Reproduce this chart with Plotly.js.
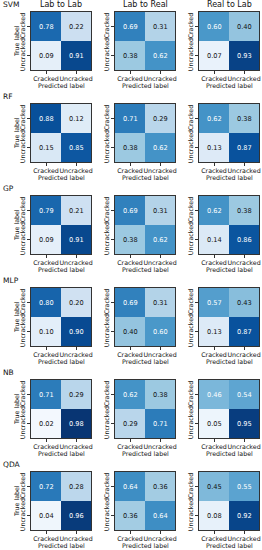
<!DOCTYPE html>
<html>
<head>
<meta charset="utf-8">
<script src="https://cdn.plot.ly/plotly-3.0.1.min.js"></script>
<style>html,body{margin:0;padding:0;background:#fff;}#chart{width:262px;height:550px;}</style>
</head>
<body>
<div id="chart"></div>
<script>
// ---- data ----
const models = ['SVM', 'RF', 'GP', 'MLP', 'NB', 'QDA'];
const scenarios = ['Lab to Lab', 'Lab to Real', 'Real to Lab'];
const classLabels = ['Cracked', 'Uncracked'];

const svm = [[[0.78, 0.22], [0.09, 0.91]], [[0.69, 0.31], [0.38, 0.62]], [[0.60, 0.40], [0.07, 0.93]]];
const rf  = [[[0.88, 0.12], [0.15, 0.85]], [[0.71, 0.29], [0.38, 0.62]], [[0.62, 0.38], [0.13, 0.87]]];
const gp  = [[[0.79, 0.21], [0.09, 0.91]], [[0.69, 0.31], [0.38, 0.62]], [[0.62, 0.38], [0.14, 0.86]]];
const mlp = [[[0.80, 0.20], [0.10, 0.90]], [[0.69, 0.31], [0.40, 0.60]], [[0.57, 0.43], [0.13, 0.87]]];
const nb  = [[[0.71, 0.29], [0.02, 0.98]], [[0.62, 0.38], [0.29, 0.71]], [[0.46, 0.54], [0.05, 0.95]]];
const qda = [[[0.72, 0.28], [0.04, 0.96]], [[0.64, 0.36], [0.36, 0.64]], [[0.45, 0.55], [0.08, 0.92]]];
const matrices = [svm, rf, gp, mlp, nb, qda];

// ---- style ----
const W = 262, H = 550;
const FONT = 'DejaVu Sans, sans-serif';
const blues = [
  [0.0, '#f7fbff'], [0.125, '#deebf7'], [0.25, '#c6dbef'], [0.375, '#9ecae1'],
  [0.5, '#6baed6'], [0.625, '#4292c6'], [0.75, '#2171b5'], [0.875, '#08519c'], [1.0, '#08306b']
];
const colLeft = [31, 115, 199];
const boxW = 60;
const rowTop0 = 12, rowPitch = 92, boxH = 58;
const TF = {family: FONT, size: 6.3, color: '#111'};

const data = [];
const layout = {
  width: W, height: H,
  margin: {l: 0, r: 0, t: 0, b: 0},
  paper_bgcolor: '#fff', plot_bgcolor: '#fff',
  font: {family: FONT, size: 6.3, color: '#111'},
  showlegend: false,
  annotations: []
};

let k = 0;
matrices.forEach((m, r) => {
  const top = rowTop0 + rowPitch * r;
  m.forEach((z, c) => {
    k++;
    const xa = 'xaxis' + (k === 1 ? '' : k), ya = 'yaxis' + (k === 1 ? '' : k);
    const xr = 'x' + (k === 1 ? '' : k), yr = 'y' + (k === 1 ? '' : k);
    data.push({
      type: 'heatmap', z: z, x: classLabels, y: classLabels,
      xaxis: xr, yaxis: yr,
      colorscale: blues, zmin: 0, zmax: 1, showscale: false,
      hoverinfo: 'skip', xgap: 0, ygap: 0
    });
    const axCommon = {
      type: 'category', showgrid: false, zeroline: false,
      showline: true, mirror: true, linecolor: '#000', linewidth: 0.8,
      ticks: 'outside', ticklen: 3, tickwidth: 0.8, tickcolor: '#000',
      tickfont: TF, fixedrange: true
    };
    layout[xa] = Object.assign({}, axCommon, {
      domain: [colLeft[c] / W, (colLeft[c] + boxW) / W],
      anchor: yr, range: [-0.5, 1.5], tickangle: 0
    });
    layout[ya] = Object.assign({}, axCommon, {
      domain: [1 - (top + boxH) / H, 1 - top / H],
      anchor: xr, range: [1.5, -0.5], tickangle: -90
    });
    z.forEach((row, i) => row.forEach((v, j) => {
      layout.annotations.push({
        xref: xr, yref: yr, x: classLabels[j], y: classLabels[i],
        text: v.toFixed(2), showarrow: false,
        font: {family: FONT, size: 6.6, color: v > 0.455 ? '#ffffff' : '#111111'}
      });
    }));
    // axis titles
    layout.annotations.push({
      xref: 'paper', yref: 'paper',
      x: (colLeft[c] + boxW / 2) / W, y: 1 - (top + boxH + 10) / H,
      xanchor: 'center', yanchor: 'top', showarrow: false,
      text: 'Predicted label', font: TF
    });
    if (c === 0) {
      layout.annotations.push({
        xref: 'paper', yref: 'paper',
        x: 16 / W, y: 1 - (top + boxH / 2) / H,
        xanchor: 'center', yanchor: 'middle', showarrow: false, textangle: -90,
        text: 'True label', font: TF
      });
    }
    if (r === 0) {
      layout.annotations.push({
        xref: 'paper', yref: 'paper',
        x: (colLeft[c] + boxW / 2) / W, y: 1 - (top - 1) / H,
        xanchor: 'center', yanchor: 'bottom', showarrow: false,
        text: scenarios[c], font: {family: FONT, size: 8, color: '#111'}
      });
    }
  });
  layout.annotations.push({
    xref: 'paper', yref: 'paper',
    x: 1 / W, y: 1 - (top - 1) / H,
    xanchor: 'left', yanchor: 'bottom', showarrow: false,
    text: models[r], font: {family: FONT, size: 7.5, color: '#111'}
  });
});

Plotly.newPlot('chart', data, layout, {displayModeBar: false, staticPlot: true});
</script>
</body>
</html>
